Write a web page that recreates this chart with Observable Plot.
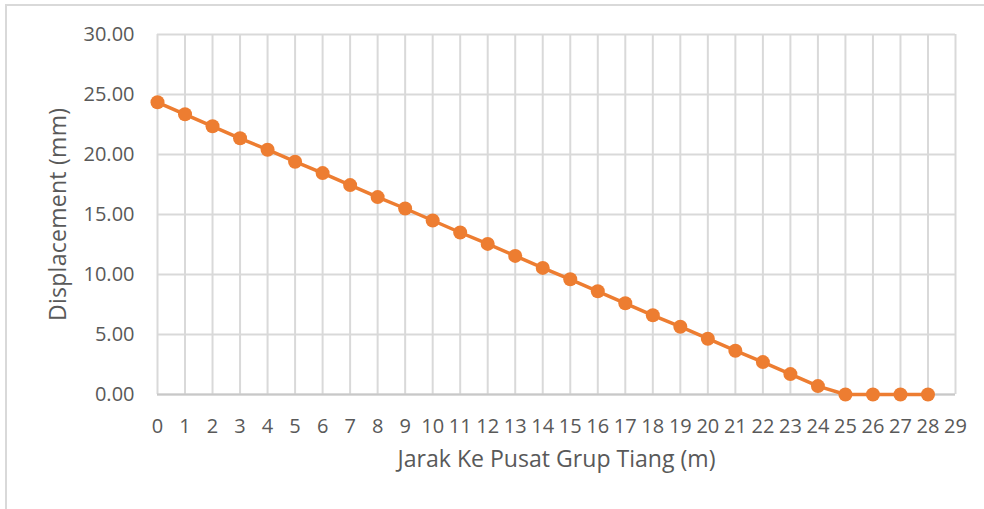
<!DOCTYPE html>
<html>
<head>
<meta charset="utf-8">
<script src="https://cdn.jsdelivr.net/npm/d3@7"></script>
<script src="https://cdn.jsdelivr.net/npm/@observablehq/plot@0.6"></script>
<style>
  html, body { margin: 0; padding: 0; background: #fff; }
  #wrap { position: relative; width: 984px; height: 509px; overflow: hidden; }
  #frame { position: absolute; left: 5px; top: 4px; width: 990px; height: 520px; border: 2px solid #d9d9d9; box-sizing: border-box; }
  #chart { position: absolute; left: 0; top: 0; }
</style>
</head>
<body>
<div id="wrap"><div id="frame"></div><div id="chart"></div></div>
<script>
const distance = [0,1,2,3,4,5,6,7,8,9,10,11,12,13,14,15,16,17,18,19,20,21,22,23,24,25,26,27,28];
const displacement = [24.35,23.35,22.35,21.35,20.40,19.40,18.45,17.45,16.45,15.50,14.50,13.50,12.55,11.55,10.55,9.60,8.60,7.60,6.60,5.65,4.65,3.65,2.70,1.70,0.70,0,0,0,0];
const xTicks = d3.range(0, 30);
const yTicks = [0,5,10,15,20,25,30];
const xTitle = "Jarak Ke Pusat Grup Tiang (m)";
const yTitle = "Displacement (mm)";

const data = distance.map((d, i) => ({x: d, y: displacement[i]}));
const orange = "#ED7D31";
const grid = "#d9d9d9";
const text = "#595959";

const chart = Plot.plot({
  width: 984,
  height: 509,
  marginLeft: 157,
  marginRight: 29,
  marginTop: 34,
  marginBottom: 115,
  style: { fontFamily: "'Open Sans', sans-serif", fontSize: "20px", color: text, background: "transparent" },
  x: { domain: [0, 29], label: null },
  y: { domain: [0, 30], label: null },
  marks: [
    Plot.gridX(xTicks, { stroke: grid, strokeOpacity: 1, strokeWidth: 2 }),
    Plot.gridY(yTicks, { stroke: grid, strokeOpacity: 1, strokeWidth: 2 }),
    Plot.ruleY([0], { stroke: "#c8c8c8", strokeWidth: 2 }),
    Plot.axisX({ ticks: xTicks, tickFormat: d => String(d), tickSize: 0, tickPadding: 24, fill: text, fontSize: 20, label: null }),
    Plot.axisY({ ticks: yTicks, tickFormat: d3.format(".2f"), tickSize: 0, tickPadding: 23, fill: text, fontSize: 20, label: null }),
    Plot.line(data, { x: "x", y: "y", stroke: orange, strokeWidth: 3.5 }),
    Plot.dot(data, { x: "x", y: "y", fill: orange, r: 7 }),
    Plot.text([xTitle], { frameAnchor: "bottom", dy: 72, text: d => d, fill: text, fontSize: 23, className: "xtitle" }),
    Plot.text([yTitle], { frameAnchor: "left", dx: -99, rotate: -90, textAnchor: "middle", text: d => d, fill: text, fontSize: 23, className: "ytitle" })
  ]
});
document.getElementById("chart").appendChild(chart);
d3.select(chart).selectAll(".xtitle text").attr("textLength", 318).attr("lengthAdjust", "spacingAndGlyphs");
d3.select(chart).selectAll(".ytitle text").attr("textLength", 213).attr("lengthAdjust", "spacing");
</script>
</body>
</html>
